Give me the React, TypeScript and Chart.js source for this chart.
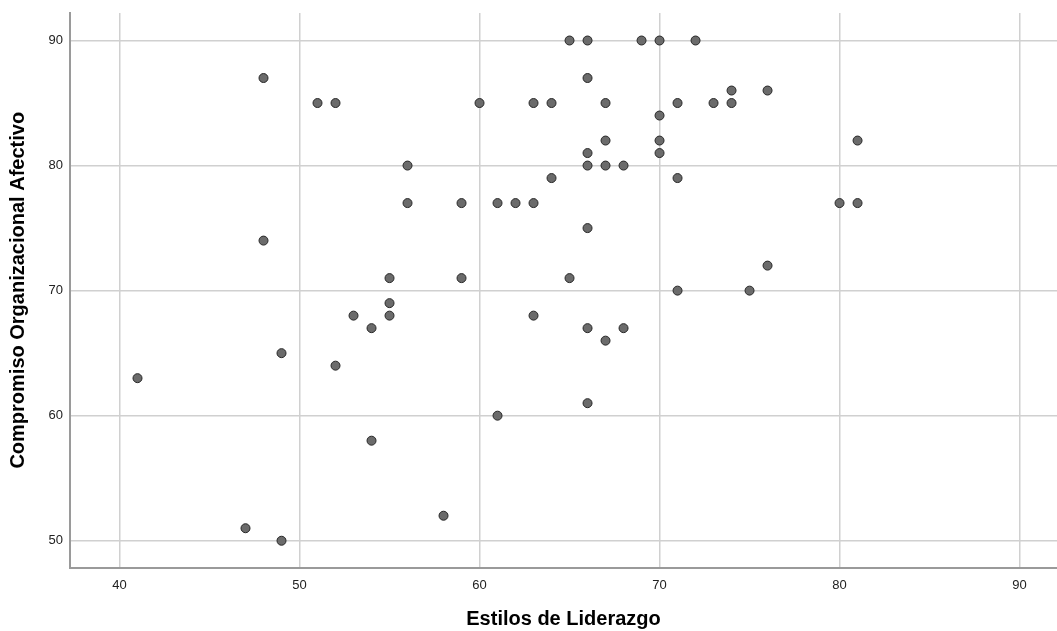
import React, { useEffect, useRef } from "react";
import { Chart, registerables } from "chart.js";

Chart.register(...registerables);

const estilosLiderazgo: number[] = [
  41, 47, 48, 48, 49, 49, 51, 52, 52, 53, 54, 54, 55, 55, 55, 56, 56, 58, 59, 59,
  60, 61, 61, 62, 63, 63, 63, 64, 64, 65, 65, 66, 66, 66, 66, 66, 66, 66, 67, 67,
  67, 67, 68, 68, 69, 70, 70, 70, 70, 71, 71, 71, 72, 73, 74, 74, 75, 76, 76, 80,
  81, 81,
];
const compromisoAfectivo: number[] = [
  63, 51, 87, 74, 65, 50, 85, 85, 64, 68, 67, 58, 71, 69, 68, 80, 77, 52, 77, 71,
  85, 77, 60, 77, 85, 77, 68, 85, 79, 90, 71, 90, 87, 81, 80, 75, 67, 61, 85, 82,
  80, 66, 80, 67, 90, 90, 84, 82, 81, 85, 79, 70, 90, 85, 86, 85, 70, 86, 72, 77,
  82, 77,
];
const xTickValues: number[] = [40, 50, 60, 70, 80, 90];
const yTickValues: number[] = [50, 60, 70, 80, 90];
const xTitle = "Estilos de Liderazgo";
const yTitle = "Compromiso Organizacional Afectivo";

export default function App() {
  const canvasRef = useRef<HTMLCanvasElement | null>(null);

  useEffect(() => {
    if (!canvasRef.current) return;
    const points = estilosLiderazgo.map((x, i) => ({ x, y: compromisoAfectivo[i] }));
    const font = "'Liberation Sans', Arial, sans-serif";
    const chart = new Chart(canvasRef.current, {
      type: "scatter",
      data: {
        datasets: [
          {
            data: points,
            backgroundColor: "#6b6b6b",
            borderColor: "#262626",
            borderWidth: 1,
            pointRadius: 4.5,
            pointHoverRadius: 4.5,
          },
        ],
      },
      options: {
        responsive: false,
        animation: false,
        layout: { autoPadding: false, padding: { top: 13, left: 0, right: 0, bottom: 0 } },
        plugins: { legend: { display: false }, tooltip: { enabled: false } },
        scales: {
          x: {
            type: "linear",
            min: 37.25,
            max: 92.08,
            afterBuildTicks: (s: any) => {
              s.ticks = xTickValues.map((v) => ({ value: v }));
            },
            afterFit: (s: any) => {
              s.height = 63.5;
              s.paddingLeft = 0;
              s.paddingRight = 0;
            },
            grid: { color: "#d0d0d0", lineWidth: 1.5, drawTicks: false },
            border: { color: "#9a9a9a", width: 2 },
            ticks: {
              padding: 10,
              color: "#222",
              font: { family: font, size: 13 },
              maxRotation: 0,
            },
            title: {
              display: true,
              text: xTitle,
              color: "#000",
              font: { family: font, size: 20, weight: "bold" },
              padding: { top: 0, bottom: 0 },
            },
          },
          y: {
            type: "linear",
            min: 47.86,
            max: 92.2,
            afterBuildTicks: (s: any) => {
              s.ticks = yTickValues.map((v) => ({ value: v }));
            },
            afterFit: (s: any) => {
              s.width = 70;
              s.paddingTop = 0;
              s.paddingBottom = 0;
            },
            grid: { color: "#d0d0d0", lineWidth: 1.5, drawTicks: false },
            border: { color: "#9a9a9a", width: 2 },
            ticks: {
              padding: 7,
              color: "#222",
              font: { family: font, size: 13 },
            },
            title: {
              display: true,
              text: yTitle,
              color: "#000",
              font: { family: font, size: 20, weight: "bold" },
              padding: { top: 6, bottom: 0 },
            },
          },
        },
      },
    } as any);
    return () => chart.destroy();
  }, []);

  return (
    <div style={{ position: "fixed", left: 0, top: 0, width: 1057, height: 631, background: "#fff" }}>
      <canvas ref={canvasRef} width={1057} height={631} style={{ display: "block" }} />
    </div>
  );
}
